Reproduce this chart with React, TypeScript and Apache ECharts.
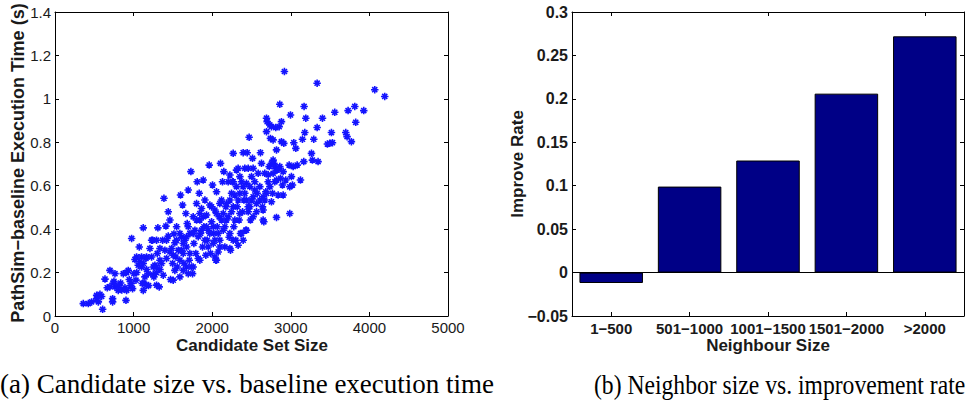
import React, { useEffect, useRef } from "react";
import * as echarts from "echarts";

// Scatter (a): candidate set size vs. PathSim-baseline execution time (s)
const candidateSize = [
  360, 424, 466, 530, 572, 551, 593, 606, 636, 665, 699, 733, 733, 763, 763, 742, 805, 835, 869, 903,
  911, 932, 945, 975, 962, 987, 1004, 1017, 1038, 1030, 1059, 1072, 1080, 1101, 1123, 1123, 1131, 1157, 1165, 1165,
  1186, 1208, 1229, 1242, 1250, 1258, 1271, 1292, 1301, 1309, 1326, 1335, 1356, 1369, 1377, 1386, 1398, 1411, 1419, 1441,
  1441, 1462, 1470, 1483, 1496, 1504, 1513, 1525, 1538, 1547, 1555, 1568, 1589, 1597, 1610, 1623, 1631, 1640, 1653, 1665,
  1674, 1682, 1695, 1708, 1716, 1729, 1737, 1750, 1758, 1767, 1780, 1792, 1801, 1809, 1822, 1835, 1843, 1852, 1864, 1877,
  1886, 1894, 1907, 1919, 1928, 1936, 1949, 1962, 1970, 1979, 1992, 2004, 2013, 2021, 2034, 2047, 2055, 2064, 2076, 2089,
  2097, 2106, 2119, 2131, 2140, 2148, 2161, 2174, 2182, 2203, 2216, 2225, 2233, 2246, 2258, 2267, 2275, 2288, 2301, 2309,
  2318, 2330, 2343, 2352, 2360, 2373, 2386, 2394, 2403, 2415, 2428, 2436, 2445, 2458, 2470, 2479, 2487, 2500, 2513, 2521,
  2542, 2564, 2572, 2585, 2606, 2614, 2627, 2640, 2648, 2657, 2669, 2682, 2691, 2691, 2699, 2712, 2725, 2733, 2741, 2754,
  2767, 2775, 2784, 2797, 2809, 2818, 2818, 2826, 2839, 2852, 2860, 2869, 2881, 2881, 2894, 2903, 2911, 2919, 2936, 2979,
  2987, 2996, 3008, 3021, 3038, 3064, 3081, 3123, 3148, 3165, 3169, 3178, 3191, 3263, 3275, 3292, 3335, 3335, 3347, 3403,
  3466, 3496, 3517, 3530, 3559, 3699, 3716, 3729, 3771, 3814, 3826, 3928, 4068, 4195,
  1292, 1335, 1419, 1462, 1504, 1547, 1589, 1610, 1631, 1674, 1695, 1716, 1758, 1801, 1822, 1843, 1864, 1886, 1907, 1928,
  1949, 1970, 1992, 2013, 2034, 2055, 2076, 2097, 2119, 2140, 2161, 2182, 2203, 2225, 2246, 2267, 2288, 2309, 2330, 2352,
  2394, 2415, 2436, 2458, 2479, 2055, 1674, 1758, 1589, 1229, 1165, 1101, 1123, 1144, 1292, 1335, 1525, 1631, 1695, 1843,
  2034, 2097, 2225, 2267, 2330, 2394, 2436, 2373, 2521, 2564, 2606, 2648, 2691, 2733, 2775, 2818, 2860, 2903, 2669, 2712,
  2754, 2797, 2839, 2648, 2754, 2542, 2500, 2267, 2225, 2352, 2521, 2458, 3030, 2987, 2775,
  530, 700, 750, 805, 850, 890, 910, 970, 1040, 1110, 1190, 1250, 1290,
];
const execTime = [
  0.057, 0.057, 0.065, 0.095, 0.1, 0.065, 0.09, 0.031, 0.17, 0.13, 0.21, 0.08, 0.065, 0.195, 0.134, 0.152, 0.118, 0.152, 0.195, 0.072,
  0.118, 0.21, 0.168, 0.357, 0.14, 0.126, 0.195, 0.26, 0.272, 0.165, 0.234, 0.318, 0.25, 0.226, 0.406, 0.118, 0.152, 0.265, 0.214, 0.142,
  0.195, 0.311, 0.272, 0.349, 0.226, 0.18, 0.234, 0.142, 0.288, 0.406, 0.134, 0.214, 0.242, 0.349, 0.188, 0.542, 0.303, 0.414, 0.265, 0.48,
  0.368, 0.442, 0.168, 0.311, 0.242, 0.165, 0.378, 0.337, 0.272, 0.411, 0.226, 0.303, 0.18, 0.557, 0.363, 0.511, 0.288, 0.242, 0.349, 0.472,
  0.318, 0.426, 0.58, 0.257, 0.38, 0.665, 0.226, 0.195, 0.457, 0.334, 0.395, 0.288, 0.518, 0.618, 0.265, 0.565, 0.442, 0.38, 0.495, 0.318,
  0.626, 0.411, 0.534, 0.28, 0.465, 0.349, 0.395, 0.695, 0.511, 0.288, 0.434, 0.603, 0.334, 0.38, 0.488, 0.257, 0.572, 0.411, 0.295, 0.457,
  0.349, 0.703, 0.534, 0.618, 0.395, 0.665, 0.318, 0.503, 0.442, 0.618, 0.363, 0.534, 0.303, 0.48, 0.618, 0.749, 0.411, 0.557, 0.349, 0.672,
  0.503, 0.68, 0.442, 0.565, 0.38, 0.618, 0.48, 0.752, 0.534, 0.68, 0.395, 0.611, 0.752, 0.503, 0.823, 0.596, 0.442, 0.642, 0.726, 0.549,
  0.618, 0.48, 0.565, 0.657, 0.596, 0.752, 0.703, 0.503, 0.442, 0.434, 0.534, 0.572, 0.911, 0.849, 0.895, 0.618, 0.688, 0.88, 0.818, 0.872,
  0.565, 0.811, 0.703, 0.618, 0.868, 0.765, 0.454, 0.672, 0.557, 0.872, 0.975, 0.634, 0.803, 0.895, 0.603, 0.557, 0.795, 1.126, 0.626, 0.695,
  0.472, 0.926, 0.642, 0.603, 0.798, 0.772, 0.695, 0.626, 0.814, 0.711, 0.965, 0.845, 0.911, 0.749, 0.718, 0.814, 1.072, 0.868, 0.711, 0.911,
  0.792, 0.795, 0.845, 0.798, 0.938, 0.845, 0.826, 0.946, 0.803, 0.965, 0.892, 0.946, 1.042, 1.011,
  0.349, 0.311, 0.349, 0.295, 0.28, 0.349, 0.38, 0.303, 0.334, 0.365, 0.411, 0.288, 0.38, 0.442, 0.365, 0.472, 0.395, 0.457, 0.349, 0.411,
  0.318, 0.38, 0.503, 0.411, 0.349, 0.472, 0.38, 0.518, 0.442, 0.472, 0.411, 0.518, 0.457, 0.38, 0.565, 0.503, 0.442, 0.596, 0.534, 0.472,
  0.596, 0.565, 0.534, 0.48, 0.503, 0.257, 0.226, 0.226, 0.257, 0.349, 0.272, 0.272, 0.242, 0.18, 0.226, 0.257, 0.21, 0.21, 0.195, 0.257,
  0.272, 0.318, 0.311, 0.349, 0.326, 0.349, 0.395, 0.38, 0.457, 0.518, 0.534, 0.488, 0.565, 0.596, 0.657, 0.626, 0.688, 0.665, 0.657, 0.65,
  0.703, 0.688, 0.68, 0.549, 0.526, 0.58, 0.534, 0.618, 0.649, 0.642, 0.68, 0.68, 0.688, 0.595, 0.718,
  0.08, 0.135, 0.16, 0.14, 0.12, 0.13, 0.2, 0.15, 0.2, 0.15, 0.14, 0.19, 0.2,
];

// Bar (b): neighbour size vs. improve rate
const neighbourSizes = ["1−500", "501−1000", "1001−1500", "1501−2000", ">2000"];
const improveRate = [-0.012, 0.099, 0.129, 0.206, 0.272];

const scatterXTicks = { min: 0, max: 5000, interval: 1000 };
const scatterYTicks = { min: 0, max: 1.4, interval: 0.2 };
const barYTicks = { min: -0.05, max: 0.3, interval: 0.05 };

const SANS = "'Liberation Sans', Arial, Helvetica, sans-serif";
const SERIF = "'Liberation Serif', 'DejaVu Serif', serif";
const STAR = "path://M5,0L5,10M0,5L10,5M1.6,1.6L8.4,8.4M1.6,8.4L8.4,1.6";

function fmt(v: number): string {
  const r = Math.round(v * 100) / 100;
  return String(r).replace("-", "−");
}

export default function App() {
  const ref = useRef<HTMLDivElement>(null);
  useEffect(() => {
    if (!ref.current) return;
    const chart = echarts.init(ref.current, undefined, { renderer: "svg" });
    const axisLine = { show: true, onZero: false, lineStyle: { color: "#000", width: 1 } };
    const tickIn = { show: true, inside: true, length: 4, lineStyle: { color: "#000", width: 1 } };
    const plainLabel = { color: "#1a1a1a", fontFamily: SANS, fontSize: 15 };
    const boldLabel = { color: "#1a1a1a", fontFamily: SANS, fontWeight: "bold" as const };
    const scatterPoints = candidateSize.map((x, i) => [x, execTime[i]]);

    chart.setOption({
      animation: false,
      backgroundColor: "#fff",
      grid: [
        { left: 55, top: 12, width: 393, height: 304, show: false },
        { left: 572, top: 12, width: 392, height: 304, show: false },
      ],
      xAxis: [
        {
          type: "value", gridIndex: 0, position: "bottom", ...scatterXTicks,
          axisLine, axisTick: tickIn, splitLine: { show: false },
          axisLabel: { ...plainLabel, margin: 4, formatter: (v: number) => String(Math.round(v)) },
        },
        {
          type: "value", gridIndex: 0, position: "top", ...scatterXTicks,
          axisLine, axisTick: tickIn, splitLine: { show: false }, axisLabel: { show: false },
        },
        {
          type: "category", gridIndex: 1, position: "bottom", data: neighbourSizes,
          axisLine, axisTick: { ...tickIn, alignWithLabel: true }, splitLine: { show: false },
          axisLabel: { ...boldLabel, fontSize: 15, margin: 5, interval: 0 },
        },
        {
          type: "category", gridIndex: 1, position: "top", data: neighbourSizes,
          axisLine, axisTick: { ...tickIn, alignWithLabel: true }, splitLine: { show: false },
          axisLabel: { show: false },
        },
      ],
      yAxis: [
        {
          type: "value", gridIndex: 0, position: "left", ...scatterYTicks,
          axisLine, axisTick: tickIn, splitLine: { show: false },
          axisLabel: { ...plainLabel, margin: 4, formatter: (v: number) => fmt(v) },
        },
        {
          type: "value", gridIndex: 0, position: "right", ...scatterYTicks,
          axisLine, axisTick: tickIn, splitLine: { show: false }, axisLabel: { show: false },
        },
        {
          type: "value", gridIndex: 1, position: "left", ...barYTicks,
          axisLine, axisTick: tickIn, splitLine: { show: false },
          axisLabel: { ...boldLabel, fontSize: 16, margin: 4, formatter: (v: number) => fmt(v) },
        },
        {
          type: "value", gridIndex: 1, position: "right", ...barYTicks,
          axisLine, axisTick: tickIn, splitLine: { show: false }, axisLabel: { show: false },
        },
      ],
      series: [
        {
          type: "scatter", xAxisIndex: 0, yAxisIndex: 0, data: scatterPoints,
          symbol: STAR, symbolSize: 7.5,
          itemStyle: { color: "rgba(0,0,255,0)", borderColor: "#1414ff", borderWidth: 1.6, opacity: 1 },
          emphasis: { disabled: true },
        },
        {
          type: "bar", xAxisIndex: 2, yAxisIndex: 2, data: improveRate, barWidth: "81%",
          itemStyle: { color: "#000086", borderColor: "#000", borderWidth: 1 },
          markLine: {
            silent: true, symbol: ["none", "none"], label: { show: false },
            lineStyle: { color: "#000", width: 1, type: "solid" },
            data: [{ yAxis: 0 }],
          },
        },
      ],
      graphic: [
        {
          type: "text", x: 252, y: 345,
          style: { text: "Candidate Set Size", font: `bold 17px ${SANS}`, fill: "#1a1a1a", align: "center", verticalAlign: "middle" },
        },
        {
          type: "text", x: 18, y: 163, rotation: Math.PI / 2,
          style: { text: "PathSim−baseline Execution Time (s)", font: `bold 18px ${SANS}`, fill: "#1a1a1a", align: "center", verticalAlign: "middle" },
        },
        {
          type: "text", x: 768, y: 345,
          style: { text: "Neighbour Size", font: `bold 17px ${SANS}`, fill: "#1a1a1a", align: "center", verticalAlign: "middle" },
        },
        {
          type: "text", x: 517, y: 164, rotation: Math.PI / 2,
          style: { text: "Improve Rate", font: `bold 17px ${SANS}`, fill: "#1a1a1a", align: "center", verticalAlign: "middle" },
        },
        {
          type: "text", x: 0, y: 384,
          style: { text: "(a) Candidate size vs. baseline execution time", font: `27px ${SERIF}`, fill: "#000", align: "left", verticalAlign: "middle" },
        },
        {
          type: "text", x: 594, y: 384, scaleX: 0.875,
          style: { text: "(b) Neighbor size vs. improvement rate", font: `27px ${SERIF}`, fill: "#000", align: "left", verticalAlign: "middle" },
        },
      ],
    });
    return () => chart.dispose();
  }, []);
  return (
    <div
      ref={ref}
      style={{ position: "fixed", left: 0, top: 0, width: 971, height: 400, background: "#fff" }}
    />
  );
}
